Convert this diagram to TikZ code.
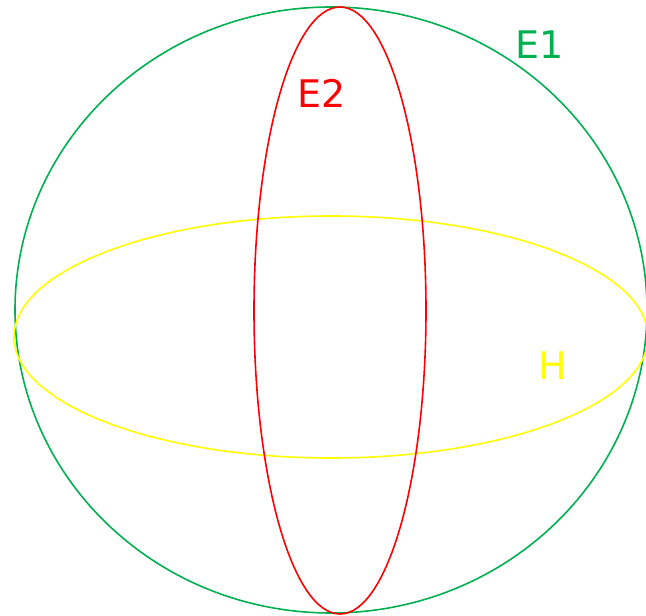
\documentclass[tikz,border=0pt]{standalone}
\usepackage{fontspec}
\setmainfont{DejaVu Sans}
\definecolor{eone}{HTML}{00B050}
\definecolor{etwo}{HTML}{FF0000}
\definecolor{hcol}{HTML}{FFFF00}
\begin{document}
\begin{tikzpicture}[x=1pt,y=1pt,
  curve/.style={line width=1.6pt},
  lbl/.style={font=\fontsize{38}{40}\selectfont, inner sep=0pt}]
\useasboundingbox (0,0) rectangle (646,616);
\draw[curve,eone] (331,306) ellipse [x radius=316, y radius=303];
\draw[curve,hcol] (331,279) ellipse [x radius=317, y radius=121];
\draw[curve,etwo] (340,305.5) ellipse [x radius=86, y radius=303.5];
\node[lbl,text=eone] (e1) at (540,571) {E1};
\node[lbl,text=etwo] (e2) at (322,523) {E2};
\node[lbl,text=hcol] (h) at (553,250) {H};
\end{tikzpicture}
\end{document}
